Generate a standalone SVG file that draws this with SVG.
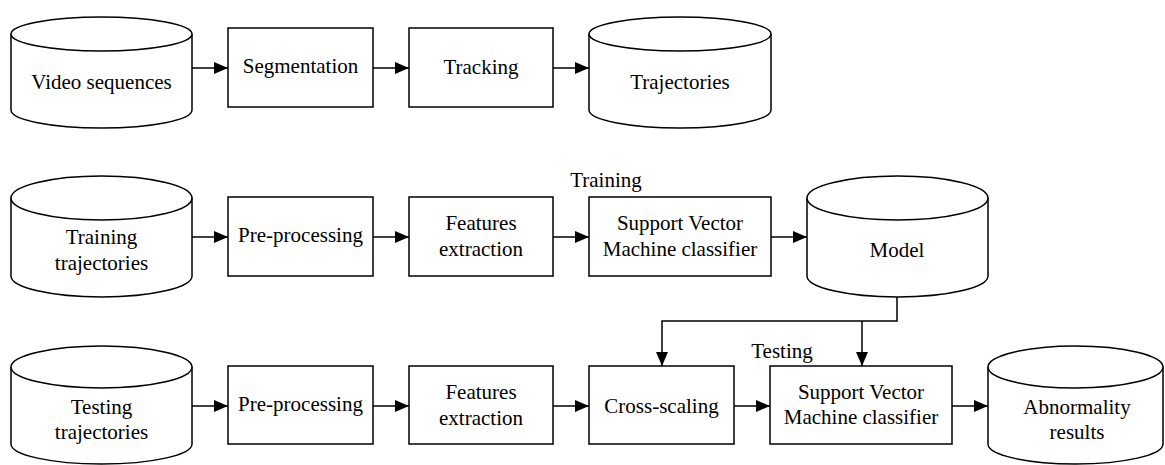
<svg xmlns="http://www.w3.org/2000/svg" width="1165" height="465" viewBox="0 0 1165 465">
<style>
.n{fill:#fff;stroke:#000;stroke-width:1.5}
.c{fill:none;stroke:#000;stroke-width:1.5}
text{font-family:"Liberation Serif","Times New Roman",serif;font-size:21px;fill:#000;text-anchor:middle}
</style>
<defs>
<marker id="ah" markerUnits="userSpaceOnUse" markerWidth="15" markerHeight="13" refX="14" refY="6" orient="auto">
<path d="M0,0 L14,6 L0,12 z" fill="#000"/>
</marker>
</defs>
<rect width="1165" height="465" fill="#fff"/>
<g id="connectors" class="c" marker-end="url(#ah)">
<path d="M192,68 H228"/>
<path d="M373,68 H409"/>
<path d="M553,68 H589"/>
<path d="M192,237 H228"/>
<path d="M373,237 H409"/>
<path d="M553,237 H589"/>
<path d="M771,237 H807"/>
<path d="M192,406 H228"/>
<path d="M373,406 H409"/>
<path d="M553,406 H589"/>
<path d="M734,406 H770"/>
<path d="M952,406 H988"/>
<path d="M897,297 V321 H662 V366"/>
<path d="M862,321 V366"/>
</g>
<g id="video">
<path class="n" d="M11,34 V110 A90.5,18 0 0 0 192,110 V34"/>
<ellipse class="n" cx="101.5" cy="34" rx="90.5" ry="17"/>
<text x="101.5" y="89">Video sequences</text>
</g>
<g id="segmentation">
<rect class="n" x="228" y="28" width="145" height="79"/>
<text x="300.5" y="73">Segmentation</text>
</g>
<g id="tracking">
<rect class="n" x="409" y="28" width="144" height="79"/>
<text x="481" y="74">Tracking</text>
</g>
<g id="trajectories">
<path class="n" d="M589,34 V110 A91,18 0 0 0 771,110 V34"/>
<ellipse class="n" cx="680" cy="34" rx="91" ry="17"/>
<text x="680" y="89">Trajectories</text>
</g>
<g id="training-trajectories">
<path class="n" d="M11,198 V276 A90.5,21 0 0 0 192,276 V198"/>
<ellipse class="n" cx="101.5" cy="198" rx="90.5" ry="22"/>
<text x="101.5" y="244">Training</text>
<text x="101.5" y="270">trajectories</text>
</g>
<g id="preprocessing-train">
<rect class="n" x="228" y="197" width="145" height="79"/>
<text x="300.5" y="242">Pre-processing</text>
</g>
<g id="features-train">
<rect class="n" x="409" y="197" width="144" height="79"/>
<text x="481" y="230">Features</text>
<text x="481" y="256">extraction</text>
</g>
<g id="svm-train">
<rect class="n" x="589" y="197" width="182" height="79"/>
<text x="680" y="230">Support Vector</text>
<text x="680" y="256">Machine classifier</text>
<text x="606" y="187">Training</text>
</g>
<g id="model">
<path class="n" d="M807,198 V276 A90.5,21 0 0 0 988,276 V198"/>
<ellipse class="n" cx="897.5" cy="198" rx="90.5" ry="22"/>
<text x="897" y="257">Model</text>
</g>
<g id="testing-trajectories">
<path class="n" d="M11,367 V444 A90.5,20 0 0 0 192,444 V367"/>
<ellipse class="n" cx="101.5" cy="367" rx="90.5" ry="21"/>
<text x="101.5" y="414">Testing</text>
<text x="101.5" y="439">trajectories</text>
</g>
<g id="preprocessing-test">
<rect class="n" x="228" y="366" width="145" height="78"/>
<text x="300.5" y="411">Pre-processing</text>
</g>
<g id="features-test">
<rect class="n" x="409" y="366" width="144" height="78"/>
<text x="481" y="399">Features</text>
<text x="481" y="425">extraction</text>
</g>
<g id="cross-scaling">
<rect class="n" x="589" y="366" width="145" height="78"/>
<text x="661.5" y="413">Cross-scaling</text>
</g>
<g id="svm-test">
<rect class="n" x="770" y="366" width="182" height="78"/>
<text x="861" y="399">Support Vector</text>
<text x="861" y="424">Machine classifier</text>
<text x="782" y="358">Testing</text>
</g>
<g id="abnormality">
<path class="n" d="M988,367 V444 A87.5,20 0 0 0 1163,444 V367"/>
<ellipse class="n" cx="1075.5" cy="367" rx="87.5" ry="21"/>
<text x="1077" y="414">Abnormality</text>
<text x="1077" y="439">results</text>
</g>
</svg>
